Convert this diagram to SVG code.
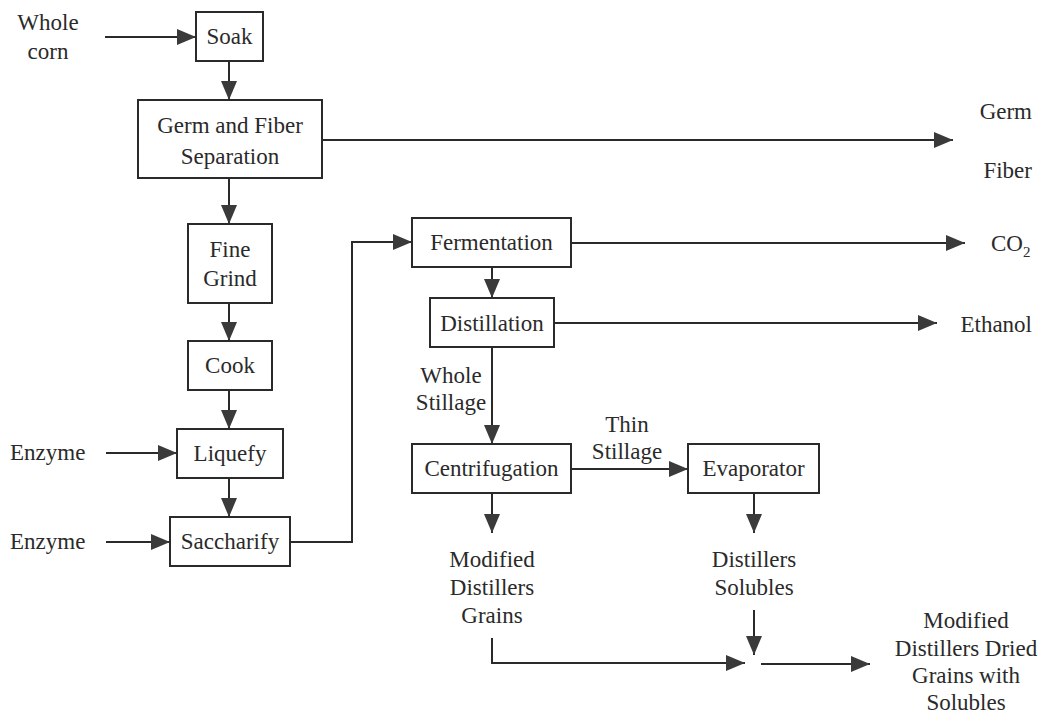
<svg xmlns="http://www.w3.org/2000/svg" width="1040" height="715" viewBox="0 0 1040 715">
<defs>
<marker id="ah" markerWidth="19" markerHeight="16" refX="19" refY="8" orient="auto" markerUnits="userSpaceOnUse">
<path d="M0,0 L19,8 L0,16 Z" fill="#3a3a3a"/>
</marker>
<style>
.box{fill:#fff;stroke:#2a2a2a;stroke-width:2}
.c{fill:none;stroke:#2a2a2a;stroke-width:2;marker-end:url(#ah)}
.m{text-anchor:middle}
.e{text-anchor:end}
</style>
</defs>
<rect width="1040" height="715" fill="#fff"/>
<g id="connectors">
<path class="c" d="M105,37 H196"/>
<path class="c" d="M229,61 V100"/>
<path class="c" d="M322,140 H953"/>
<path class="c" d="M229,178 V224"/>
<path class="c" d="M229,303 V341"/>
<path class="c" d="M229,390 V429"/>
<path class="c" d="M106,453 H177"/>
<path class="c" d="M229,478 V517"/>
<path class="c" d="M106,542 H170"/>
<path class="c" d="M290,542 H352 V242 H412"/>
<path class="c" d="M571,243 H965"/>
<path class="c" d="M492,267 V298"/>
<path class="c" d="M554,323 H937"/>
<path class="c" d="M492,347 V444"/>
<path class="c" d="M571,469 H688"/>
<path class="c" d="M492,493 V533"/>
<path class="c" d="M754,493 V533"/>
<path class="c" d="M754,610 V655"/>
<path class="c" d="M492,638 V663 H745"/>
<path class="c" d="M761,664 H870"/>
</g>
<g font-family="Liberation Serif, DejaVu Serif, Noto Serif, serif" font-size="23" fill="#2a2a2a">
<g id="soak"><rect class="box" x="196" y="12" width="67" height="49"/><text class="m" x="229.5" y="44">Soak</text></g>
<g id="germfiber"><rect class="box" x="138" y="100" width="184" height="78"/><text class="m" x="230" y="133">Germ and Fiber</text><text class="m" x="230" y="164">Separation</text></g>
<g id="finegrind"><rect class="box" x="188" y="224" width="84" height="79"/><text class="m" x="230" y="257">Fine</text><text class="m" x="230" y="286">Grind</text></g>
<g id="cook"><rect class="box" x="188" y="341" width="84" height="49"/><text class="m" x="230" y="373">Cook</text></g>
<g id="liquefy"><rect class="box" x="177" y="429" width="106" height="49"/><text class="m" x="230" y="461">Liquefy</text></g>
<g id="saccharify"><rect class="box" x="170" y="517" width="120" height="49"/><text class="m" x="230" y="549">Saccharify</text></g>
<g id="fermentation"><rect class="box" x="412" y="218" width="159" height="49"/><text class="m" x="491.5" y="250">Fermentation</text></g>
<g id="distillation"><rect class="box" x="430" y="298" width="124" height="49"/><text class="m" x="492" y="331">Distillation</text></g>
<g id="centrifugation"><rect class="box" x="412" y="444" width="159" height="49"/><text class="m" x="491.5" y="476">Centrifugation</text></g>
<g id="evaporator"><rect class="box" x="688" y="444" width="131" height="49"/><text class="m" x="753.5" y="476">Evaporator</text></g>
<g id="labels">
<text class="m" x="48" y="30">Whole</text>
<text class="m" x="48" y="59">corn</text>
<text x="10" y="460">Enzyme</text>
<text x="10" y="549">Enzyme</text>
<text class="e" x="1032" y="119">Germ</text>
<text class="e" x="1032" y="178">Fiber</text>
<text x="991" y="251">CO<tspan font-size="15" dy="6">2</tspan></text>
<text class="e" x="1032" y="332">Ethanol</text>
<text class="m" x="451" y="383">Whole</text>
<text class="m" x="451" y="410">Stillage</text>
<text class="m" x="627" y="432">Thin</text>
<text class="m" x="627" y="459">Stillage</text>
<text class="m" x="492" y="567">Modified</text>
<text class="m" x="492" y="595">Distillers</text>
<text class="m" x="492" y="623">Grains</text>
<text class="m" x="754" y="567">Distillers</text>
<text class="m" x="754" y="595">Solubles</text>
<text class="m" x="966" y="628">Modified</text>
<text class="m" x="966" y="656">Distillers Dried</text>
<text class="m" x="966" y="683">Grains with</text>
<text class="m" x="966" y="710">Solubles</text>
</g>
</g>
</svg>
